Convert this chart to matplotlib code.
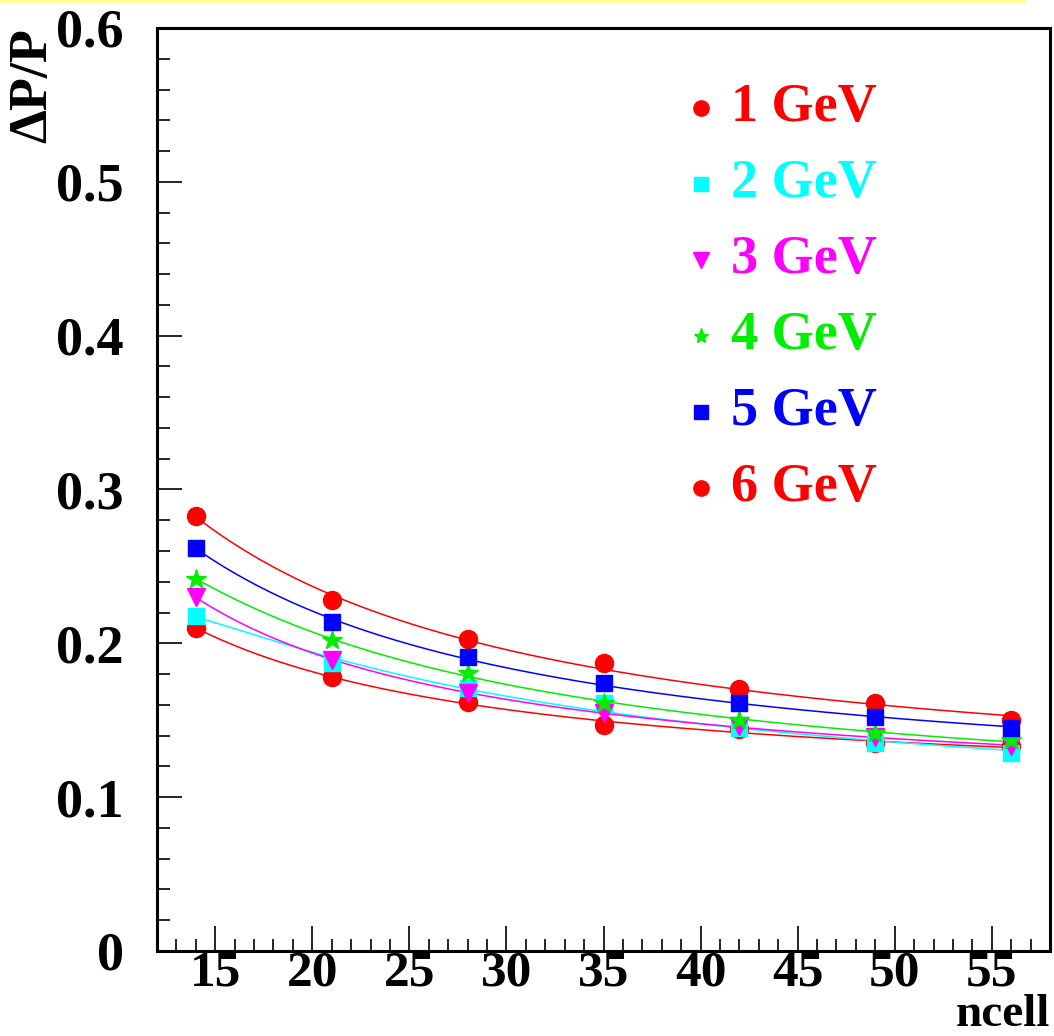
import numpy as np
import matplotlib
matplotlib.use('Agg')
import matplotlib.pyplot as plt
from matplotlib.patches import Rectangle

# data
ncell = [14, 21, 28, 35, 42, 49, 56]
res_1gev = [0.210, 0.178, 0.162, 0.147, 0.144, 0.135, 0.133]
res_2gev = [0.218, 0.187, 0.171, 0.161, 0.145, 0.135, 0.129]
res_3gev = [0.230, 0.189, 0.168, 0.155, 0.146, 0.139, 0.133]
res_4gev = [0.242, 0.202, 0.181, 0.161, 0.150, 0.142, 0.137]
res_5gev = [0.262, 0.214, 0.191, 0.174, 0.161, 0.152, 0.145]
res_6gev = [0.283, 0.228, 0.203, 0.187, 0.170, 0.161, 0.150]

labels = ['1 GeV', '2 GeV', '3 GeV', '4 GeV', '5 GeV', '6 GeV']
series = [res_1gev, res_2gev, res_3gev, res_4gev, res_5gev, res_6gev]
colors = ['#ff0000', '#00ffff', '#ff00ff', '#00ee00', '#0000ff', '#ff0000']
markers = ['o', 's', 'v', '*', 's', 'o']
msizes = [13, 12, 13, 15, 12, 13]
leg_sizes = [11, 10, 11, 11, 10, 11]
zorders = [3, 4, 5, 6, 7, 2]

font = 'Liberation Serif'
fsize = 39

fig = plt.figure(figsize=(10.54, 10.36), dpi=100)
fig.add_artist(Rectangle((0, 1033 / 1036), 1025 / 1054, 3 / 1036,
                         transform=fig.transFigure, color='#ffff99', lw=0))
ax = fig.add_axes([157 / 1054, 85 / 1036, 893 / 1054, 923 / 1036])

x = np.array(ncell, dtype=float)
xs = np.linspace(14, 56, 200)
for lab, ys, c, m, ms, z in zip(labels, series, colors, markers, msizes, zorders):
    # smooth fit through the points: a + b/x + c/x^2
    coef = np.polyfit(1 / x, ys, 2)
    ax.plot(xs, np.polyval(coef, 1 / xs), color=c, lw=1.1, zorder=z)
    ax.plot(x, ys, linestyle='none', marker=m, ms=ms, color=c, mec=c, zorder=z + 10)

# legend drawn by hand, markers then coloured text
for i, (lab, c, m, ms) in enumerate(zip(labels, colors, markers, leg_sizes)):
    yy = 0.913 - 0.0823 * i
    ax.plot([0.609], [yy], transform=ax.transAxes, marker=m, ms=ms, color=c,
            linestyle='none', clip_on=False)
    ax.text(0.643, yy, lab, transform=ax.transAxes, color=c, fontsize=fsize,
            fontweight='bold', family=font, va='center', ha='left')

ax.set_xlim(12, 58)
ax.set_ylim(0, 0.6)
ax.set_xticks(np.arange(15, 56, 5))
ax.set_xticks(np.arange(13, 58, 1), minor=True)
ax.set_yticks(np.arange(0, 0.61, 0.1))
ax.set_yticks(np.arange(0, 0.61, 0.02), minor=True)
ax.set_yticklabels(['0', '0.1', '0.2', '0.3', '0.4', '0.5', '0.6'])

ax.tick_params(which='both', direction='in', top=False, right=False, width=1.2)
ax.tick_params(which='major', length=18)
ax.tick_params(which='minor', length=9)
ax.tick_params(axis='y', pad=24)
ax.tick_params(axis='x', pad=0)
for lab in ax.get_yticklabels():
    lab.set_family(font)
    lab.set_fontweight('bold')
    lab.set_fontsize(fsize)
for lab in ax.get_xticklabels():
    lab.set_family(font)
    lab.set_fontweight('bold')
    lab.set_fontsize(37)

fig.text(33 / 1054, 1 - 28 / 1036, '\u0394P/P', rotation=90, ha='center', va='top',
         fontsize=fsize, fontweight='bold', family=font)
fig.text(1050 / 1054, 0.0, 'ncell', ha='right', va='bottom',
         fontsize=34, fontweight='bold', family=font)
for sp in ax.spines.values():
    sp.set_linewidth(2.2)

fig.savefig('out.png', dpi=100, facecolor='white')
